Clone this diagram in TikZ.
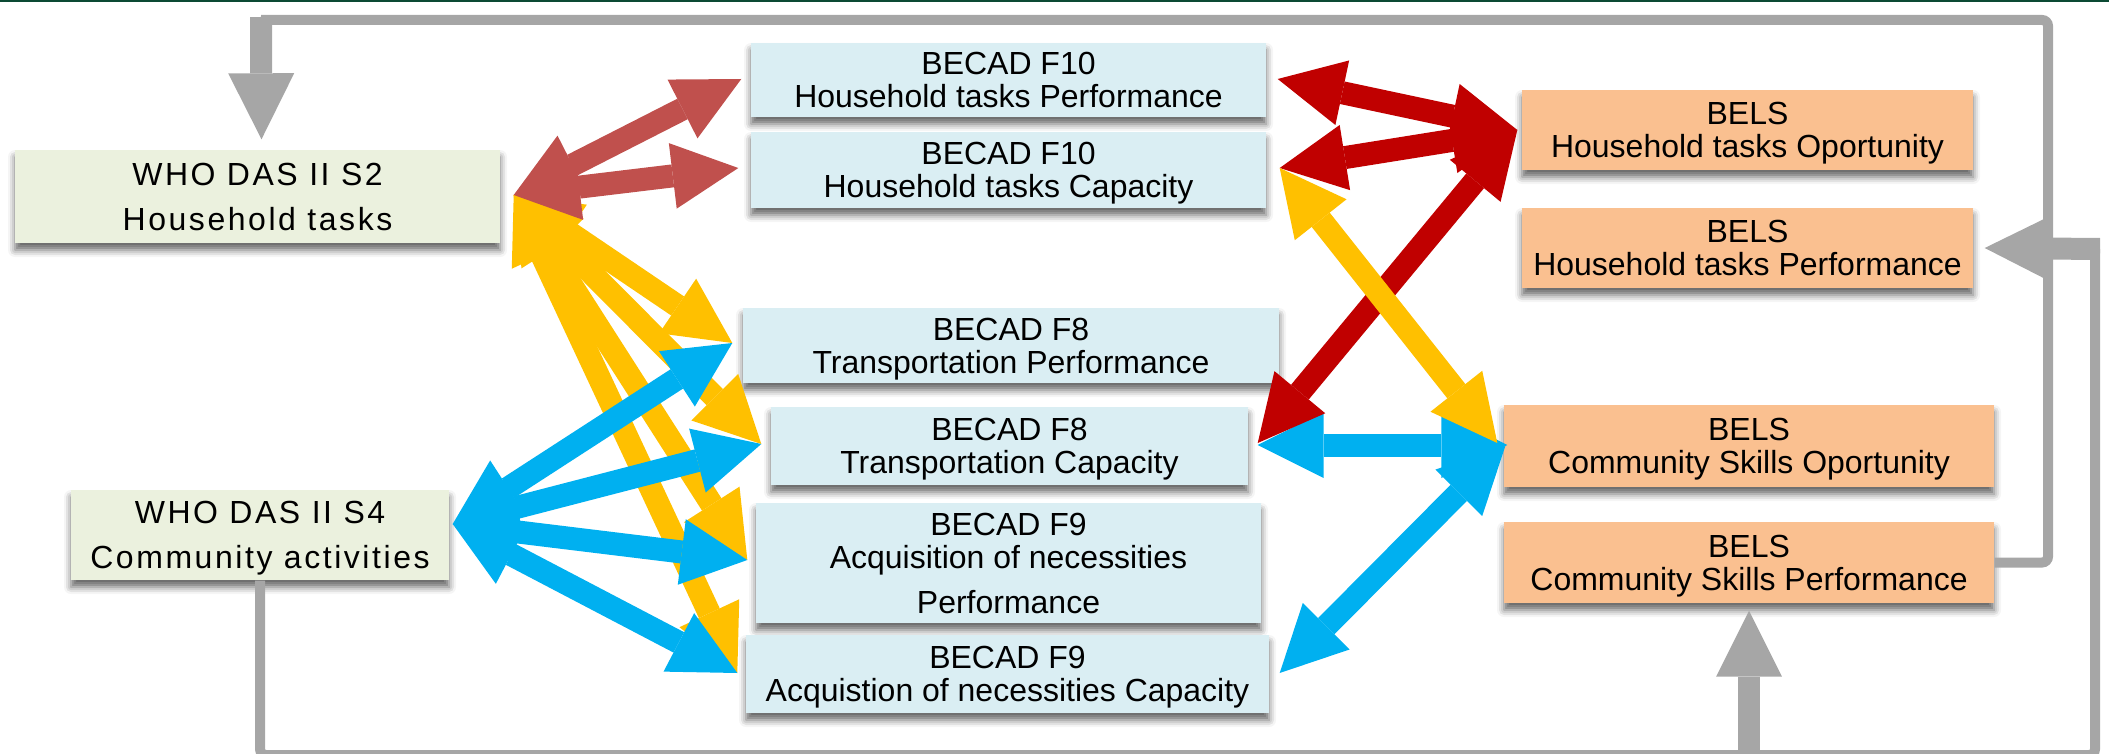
\documentclass[tikz,border=0pt]{standalone}
\usepackage{fontspec}
\setmainfont{Liberation Sans}
\newfontfamily\whofont[LetterSpace=8]{Liberation Sans}
\usetikzlibrary{arrows.meta,calc,shadows.blur}
\definecolor{barGreen}{RGB}{12,74,52}
\definecolor{linkGrey}{RGB}{166,166,166}
\definecolor{whoGreen}{RGB}{235,241,222}
\definecolor{becadBlue}{RGB}{218,238,243}
\definecolor{belsPeach}{RGB}{250,192,144}
\definecolor{arrowRose}{RGB}{192,80,77}
\definecolor{arrowRed}{RGB}{192,0,0}
\definecolor{arrowGold}{RGB}{255,192,0}
\definecolor{arrowCyan}{RGB}{0,176,240}

\tikzset{
  box/.style={inner sep=0pt, align=center, text depth=0pt,
    font=\fontsize{9.1pt}{9.4pt}\selectfont,
    blur shadow={shadow xshift=0pt, shadow yshift=-0.7mm, shadow blur radius=0.7mm, shadow opacity=60}},
  who/.style={box, fill=whoGreen, font=\whofont\fontsize{9.1pt}{12.8pt}\selectfont},
  becad/.style={box, fill=becadBlue},
  bels/.style={box, fill=belsPeach},
  fat/.style={line width=2.3mm, <->},
  heavy/.style={line width=2.2mm, ->, linkGrey},
  link/.style={line width=1mm, linkGrey, rounded corners=0.6mm}
}

\begin{document}
\begin{tikzpicture}[x=0.1mm, y=-0.1mm, >={Triangle[length=6.6mm, width=6.6mm, line width=0pt]}]
  \useasboundingbox (0,0) rectangle (2109,753);
  \fill[barGreen] (0,0) rectangle (2109,2.5);

  % WHO DAS II sections
  \node[who, minimum width=48.5mm, minimum height=9.3mm] (s2) at (257.5,196.5) {WHO DAS II S2\\Household tasks};
  \node[who, minimum width=37.8mm, minimum height=9mm] (s4) at (260,535) {WHO DAS II S4\\Community activities};

  % BECAD factors
  \node[becad, minimum width=51.5mm, minimum height=7.4mm] (f10p) at (1008.5,80) {BECAD F10\\Household tasks Performance};
  \node[becad, minimum width=51.5mm, minimum height=7.6mm] (f10c) at (1008.5,170) {BECAD F10\\Household tasks Capacity};
  \node[becad, minimum width=53.6mm, minimum height=7.5mm] (f8p) at (1011,345.5) {BECAD F8\\Transportation Performance};
  \node[becad, minimum width=47.7mm, minimum height=7.8mm] (f8c) at (1009.5,446) {BECAD F8\\Transportation Capacity};
  \node[becad, minimum width=50.5mm, minimum height=12mm] (f9p) at (1008.5,563) {BECAD F9\\Acquisition of necessities\\[3.4pt]Performance};
  \node[becad, minimum width=52.3mm, minimum height=7.8mm] (f9c) at (1007.5,674) {BECAD F9\\Acquistion of necessities Capacity};

  % BELS scales
  \node[bels, minimum width=45.1mm, minimum height=8mm] (hto) at (1747.5,130) {BELS\\Household tasks Oportunity};
  \node[bels, minimum width=45.1mm, minimum height=8mm] (htp) at (1747.5,248) {BELS\\Household tasks Performance};
  \node[bels, minimum width=49mm, minimum height=8.2mm] (cso) at (1749,446) {BELS\\Community Skills Oportunity};
  \node[bels, minimum width=49mm, minimum height=8.1mm] (csp) at (1749,562.5) {BELS\\Community Skills Performance};

  % grey feedback loops
  \coordinate (topL) at (261,20);
  \coordinate (topR) at (2048,20);
  \coordinate (botR) at (2095,755);
  \coordinate (turnR) at (2095,249);
  \draw[link] (csp.east) -| (topR) -- (topL);
  \draw[heavy] ($(topL)+(0,-3)$) -- ($(s2.north)+(4,-10)$);
  \draw[link] (s4.south) |- (botR) -- (turnR);
  \draw[heavy] ($(turnR)+(5,0)$) -- ($(htp.east)+(11,0)$);
  \draw[heavy] (csp.south |- botR) -- ($(csp.south)+(0,7)$);

  % arrow ends
  \coordinate (s2port) at ($(s2.east)+(13,-1.5)$);
  \coordinate (s4port) at ($(s4.east)+(3,-11)$);
  \coordinate (f8pL) at ($(f8p.west)+(-10,-2.5)$);
  \coordinate (f8cL) at ($(f8c.west)+(-9,-2)$);
  \coordinate (f9pL) at ($(f9p.west)+(-8,-3)$);
  \coordinate (f9cL) at ($(f9c.west)+(-8,-1)$);

  % left side
  \draw[fat, arrowGold] (s2port) -- (f8pL);
  \draw[fat, arrowGold] (s2port) -- (f8cL);
  \draw[fat, arrowGold] (s2port) -- (f9pL);
  \draw[fat, arrowGold] (s2port) -- (f9cL);
  \draw[fat, arrowCyan] (s4port) -- (f8pL);
  \draw[fat, arrowCyan] (s4port) -- (f8cL);
  \draw[fat, arrowCyan] (s4port) -- (f9pL);
  \draw[fat, arrowCyan] (s4port) -- (f9cL);
  \draw[fat, arrowRose] (s2port) -- ($(f10p.west)+(-9,-1)$);
  \draw[fat, arrowRose] (s2port) -- ($(f10c.west)+(-12,-2)$);

  % right side
  \draw[fat, arrowCyan] ($(f8c.east)+(9,-1)$) -- ($(cso.west)+(4,-1)$);
  \draw[fat, arrowCyan] ($(f9c.east)+(10,-1)$) -- ($(cso.west)+(2,0)$);
  \draw[fat, arrowRed] ($(f10p.east)+(11,-1)$) -- ($(hto.west)+(-4,0)$);
  \draw[fat, arrowRed] ($(f10c.east)+(13,-2)$) -- ($(hto.west)+(-4,0)$);
  \draw[fat, arrowRed] ($(f8c.east)+(9,-3)$) -- ($(hto.west)+(-4,0)$);
  \draw[fat, arrowGold] ($(f10c.east)+(13,-2)$) -- ($(cso.west)+(-6,-3)$);
\end{tikzpicture}
\end{document}
